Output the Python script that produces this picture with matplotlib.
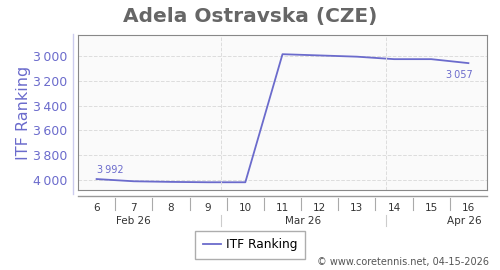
import matplotlib
matplotlib.use("Agg")
import matplotlib.pyplot as plt
import matplotlib.transforms as mtransforms
from matplotlib.lines import Line2D

weeks = [6, 7, 8, 9, 10, 11, 12, 13, 14, 15, 16]
ranking = [3992, 4010, 4015, 4018, 4018, 2985, 2995, 3005, 3025, 3025, 3057]
yticks = [3000, 3200, 3400, 3600, 3800, 4000]
months = ["Feb 26", "Mar 26", "Apr 26"]
month_pos = [7.0, 11.55, 15.9]
month_breaks = [9.35, 13.78]

blue = "#6b6bcc"
fig = plt.figure(figsize=(5, 2.7), dpi=100)
ax = fig.add_axes([0.156, 0.296, 0.818, 0.574])
ax.set_facecolor("#fafafa")

ax.plot(weeks, ranking, color=blue, lw=1.3)
ax.set_xlim(5.5, 16.5)
ax.set_ylim(4081, 2831)

ax.set_yticks(yticks)
ax.set_yticklabels([f"{v:,}".replace(",", "\u2009") for v in yticks],
                   color=blue, fontsize=9)
ax.tick_params(axis="y", length=0, pad=8)
ax.set_xticks(weeks)
ax.set_xticklabels([str(w) for w in weeks], fontsize=7.5, color="#333333")
ax.tick_params(axis="x", length=0, pad=9)

ax.grid(axis="y", color="#dddddd", ls="--", lw=0.7)
for b in month_breaks:
    ax.axvline(b, color="#dddddd", ls="--", lw=0.7)
for s in ax.spines.values():
    s.set_color("#888888")

ax.set_ylabel("ITF Ranking", color=blue, fontsize=11.5, labelpad=1)

# labels for first and last values
ax.annotate(f"{ranking[0]:,}".replace(",", "\u2009"), (weeks[0], ranking[0]),
            xytext=(0, 4), textcoords="offset points", fontsize=7, color=blue)
ax.annotate(f"{ranking[-1]:,}".replace(",", "\u2009"), (weeks[-1], ranking[-1]),
            xytext=(3, -11), textcoords="offset points", fontsize=7,
            color=blue, ha="right")

# x axis line and separators below the frame
tr = mtransforms.blended_transform_factory(ax.transData, ax.transAxes)
ax.add_line(Line2D([5.5, 16.5], [-0.04, -0.04], transform=tr, color="#999999",
                   lw=1, clip_on=False))
for w in weeks[:-1]:
    ax.add_line(Line2D([w + 0.5, w + 0.5], [-0.05, -0.13], transform=tr,
                       color="#aaaaaa", lw=0.8, clip_on=False))
for b in month_breaks:
    ax.add_line(Line2D([b, b], [-0.16, -0.23], transform=tr,
                       color="#cccccc", lw=0.8, clip_on=False))
for m, p in zip(months, month_pos):
    ax.text(p, -0.2, m, transform=tr, fontsize=7.5, color="#333333",
            ha="center", va="center")

# separate y axis line
fig.add_artist(Line2D([0.146, 0.146], [0.28, 0.875], color="#ccccee", lw=1))

fig.suptitle("Adela Ostravska (CZE)", x=0.5, y=0.975, fontsize=14.5,
             fontweight="bold", color="#666666")
fig.legend(handles=[Line2D([], [], color=blue, lw=1.3)], labels=["ITF Ranking"],
           loc="center", bbox_to_anchor=(0.5, 0.093), fontsize=8.8,
           fancybox=False, edgecolor="#999999", handlelength=1.5,
           handletextpad=0.4, borderpad=0.6)
fig.text(0.978, 0.028, "\u00a9 www.coretennis.net, 04-15-2026", ha="right",
         va="center", fontsize=7, color="#555555")

fig.savefig("out.png", dpi=100)
